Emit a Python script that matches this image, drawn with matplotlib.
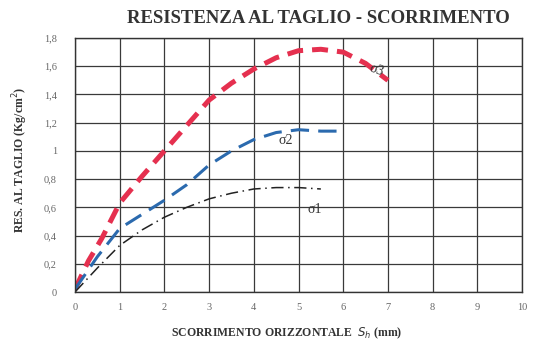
import matplotlib
matplotlib.use("Agg")
import matplotlib.pyplot as plt
from matplotlib.ticker import MultipleLocator, FuncFormatter

# curve points (slip in mm, shear resistance in kg/cm2)
sh_s3 = [0, 0.3, 0.6, 1.0, 1.5, 2.0, 2.5, 3.0, 3.5, 4.0, 4.5, 5.0, 5.5, 6.0, 6.5, 7.0]
tau_s3 = [0.02, 0.22, 0.38, 0.63, 0.82, 1.0, 1.18, 1.36, 1.48, 1.58, 1.66, 1.71, 1.72, 1.70, 1.62, 1.50]

sh_s2 = [0, 0.5, 1.0, 1.5, 2.0, 2.5, 3.0, 3.5, 4.0, 4.5, 5.0, 5.5, 6.0]
tau_s2 = [0.02, 0.25, 0.45, 0.55, 0.65, 0.76, 0.90, 1.0, 1.08, 1.13, 1.15, 1.14, 1.14]

sh_s1 = [0, 0.5, 1.0, 1.5, 2.0, 2.5, 3.0, 3.5, 4.0, 4.5, 5.0, 5.5]
tau_s1 = [0.0, 0.17, 0.33, 0.44, 0.53, 0.60, 0.66, 0.70, 0.73, 0.74, 0.74, 0.73]

serif = "Liberation Serif"

fig = plt.figure(figsize=(5.33, 3.51), dpi=100)
ax = fig.add_axes([75 / 533, 1 - 292 / 351, 447 / 533, 254 / 351])

ax.plot(sh_s3, tau_s3, color="#e5304f", lw=3.6, dashes=(3.2, 1.8), solid_capstyle="round")
ax.plot(sh_s2, tau_s2, color="#2b6aae", lw=2.2, dashes=(6, 3))
ax.plot(sh_s1, tau_s1, color="#222222", lw=1.1, dashes=(8, 3, 1, 3))

ax.text(6.55, 1.53, "σ3", fontsize=10, family=serif, color="#333333", rotation=-20)
ax.text(4.55, 1.05, "σ2", fontsize=10, family=serif, color="#333333")
ax.text(5.2, 0.56, "σ1", fontsize=10, family=serif, color="#333333")

ax.set_xlim(0, 10)
ax.set_ylim(0, 1.8)
ax.xaxis.set_major_locator(MultipleLocator(1))
ax.yaxis.set_major_locator(MultipleLocator(0.2))
ax.yaxis.set_major_formatter(FuncFormatter(lambda v, p: ("%g" % round(v, 1)).replace(".", ",")))
ax.grid(True, color="#3a3a3a", lw=0.9)
for s in ax.spines.values():
    s.set_color("#333333")
    s.set_linewidth(1.0)
ax.tick_params(length=0, labelsize=7.5, colors="#666666")
ax.tick_params(axis="y", pad=13)
ax.tick_params(axis="x", pad=8)
for lab in ax.get_xticklabels() + ax.get_yticklabels():
    lab.set_family(serif)

fig.text(0.597, 0.948, "RESISTENZA AL TAGLIO - SCORRIMENTO", ha="center", va="center",
         family=serif, fontweight="bold", fontsize=13.5, color="#333333")
fig.text(0.538, 0.05, r"SCORRIMENTO ORIZZONTALE  $S_h$ (mm)", ha="center", va="center",
         family=serif, fontweight="bold", fontsize=8.5, color="#333333")
fig.text(0.038, 0.544, r"RES. AL TAGLIO (Kg/cm$^2$)", ha="center", va="center", rotation=90,
         family=serif, fontweight="bold", fontsize=8.5, color="#333333")

fig.savefig("out.png", dpi=100)
